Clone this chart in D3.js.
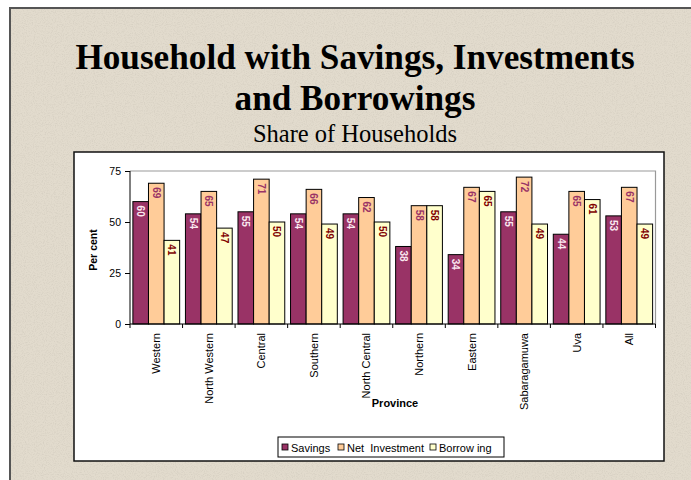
<!DOCTYPE html>
<html>
<head>
<meta charset="utf-8">
<script src="https://cdn.jsdelivr.net/npm/d3@7"></script>
<style>
  html, body { margin: 0; padding: 0; background: #ffffff; }
  svg { display: block; }
</style>
</head>
<body>
<svg id="chart" width="691" height="480"></svg>
<script>
// Provinces and the share of households (%) in each group
const provinces = ["Western", "North Western", "Central", "Southern", "North Central",
                   "Northern", "Eastern", "Sabaragamuwa", "Uva", "All"];
const savings    = [60, 54, 55, 54, 54, 38, 34, 55, 44, 53];
const investment = [69, 65, 71, 66, 62, 58, 67, 72, 65, 67];
const borrowing  = [41, 47, 50, 49, 50, 58, 65, 49, 61, 49];
const seriesNames = ["Savings", "Net  Investment", "Borrow ing"];
const yTicks = [0, 25, 50, 75];

const series = [
  { name: seriesNames[0], values: savings,    fill: "#993366", label: "#fbe8f0" },
  { name: seriesNames[1], values: investment, fill: "#ffcc99", label: "#993366" },
  { name: seriesNames[2], values: borrowing,  fill: "#ffffcc", label: "#800000" }
];

const svg = d3.select("#chart");
const W = 691, H = 480;

// Slide background with a faint granite texture
const defs = svg.append("defs");
const f = defs.append("filter").attr("id", "grain").attr("x", 0).attr("y", 0)
  .attr("width", "100%").attr("height", "100%");
f.append("feTurbulence").attr("type", "fractalNoise").attr("baseFrequency", 0.9)
  .attr("numOctaves", 2).attr("seed", 7).attr("result", "noise");
f.append("feColorMatrix").attr("in", "noise").attr("type", "matrix")
  .attr("values", "0 0 0 0 0.45  0 0 0 0 0.42  0 0 0 0 0.36  0 0 0 -1.6 0.9");

svg.append("rect").attr("x", 0).attr("y", 0).attr("width", W).attr("height", H).attr("fill", "#ffffff");
svg.append("rect").attr("x", 10).attr("y", 8).attr("width", W - 10).attr("height", H - 8)
  .attr("fill", "#e2dbcd");
svg.append("rect").attr("x", 10).attr("y", 8).attr("width", W - 10).attr("height", H - 8)
  .attr("filter", "url(#grain)").attr("opacity", 0.35);
svg.append("path").attr("d", `M10,${H} V8 H${W}`).attr("fill", "none")
  .attr("stroke", "#555555").attr("stroke-width", 2);

// Titles
const serif = "'Liberation Serif', 'Times New Roman', serif";
svg.append("text").attr("x", 355).attr("y", 69).attr("text-anchor", "middle")
  .attr("font-family", serif).attr("font-weight", "bold").attr("font-size", 35.2)
  .attr("fill", "#000").text("Household with Savings, Investments");
svg.append("text").attr("x", 355).attr("y", 110).attr("text-anchor", "middle")
  .attr("font-family", serif).attr("font-weight", "bold").attr("font-size", 35.2)
  .attr("fill", "#000").text("and Borrowings");
svg.append("text").attr("x", 355).attr("y", 141.5).attr("text-anchor", "middle")
  .attr("font-family", serif).attr("font-size", 24.5)
  .attr("fill", "#000").text("Share of Households");

// Chart frame
svg.append("rect").attr("x", 74).attr("y", 152).attr("width", 590).attr("height", 309)
  .attr("fill", "#ffffff").attr("stroke", "#111111").attr("stroke-width", 1.5);

const sans = "'Liberation Sans', Arial, sans-serif";
const plot = { left: 130, right: 655.5, top: 171, bottom: 324 };

const x = d3.scaleBand().domain(provinces).range([plot.left, plot.right]).paddingInner(0.11).paddingOuter(0.055);
const xs = d3.scaleBand().domain(series.map(s => s.name)).range([0, x.bandwidth()]);
const y = d3.scaleLinear().domain([0, 75]).range([plot.bottom, plot.top]);

// Plot area outline (top and right edges)
svg.append("path").attr("d", `M${plot.left},${plot.top} H${plot.right} V${plot.bottom}`)
  .attr("fill", "none").attr("stroke", "#999999").attr("stroke-width", 1.2);

// Bars
const groups = svg.append("g").selectAll("g").data(series).join("g");
groups.selectAll("rect").data(s => s.values.map((v, i) => ({ v, p: provinces[i], s })))
  .join("rect")
  .attr("x", d => x(d.p) + xs(d.s.name))
  .attr("y", d => y(d.v))
  .attr("width", xs.bandwidth())
  .attr("height", d => y(0) - y(d.v))
  .attr("fill", d => d.s.fill)
  .attr("stroke", "#000").attr("stroke-width", 1);

// Value labels, rotated, inside the top of each bar
groups.selectAll("text").data(s => s.values.map((v, i) => ({ v, p: provinces[i], s })))
  .join("text")
  .attr("transform", d => `translate(${x(d.p) + xs(d.s.name) + xs.bandwidth() / 2},${y(d.v) + 4}) rotate(90)`)
  .attr("dominant-baseline", "central")
  .attr("font-family", sans).attr("font-weight", "bold").attr("font-size", 10)
  .attr("fill", d => d.s.label)
  .text(d => d.v);

// Y axis
const yAxis = svg.append("g").attr("transform", `translate(${plot.left},0)`)
  .call(d3.axisLeft(y).tickValues(yTicks).tickSize(5).tickPadding(4));
yAxis.select(".domain").attr("stroke", "#000").attr("d", `M-0,${plot.top}V${plot.bottom}`);
yAxis.selectAll("text").attr("font-family", sans).attr("font-size", 10.5).attr("fill", "#000");

// X axis with tick marks between categories
const xAxis = svg.append("g").attr("transform", `translate(0,${plot.bottom})`);
xAxis.append("line").attr("x1", plot.left).attr("x2", plot.right).attr("stroke", "#000");
const step = (plot.right - plot.left) / provinces.length;
xAxis.selectAll("line.tick").data(d3.range(provinces.length + 1)).join("line")
  .attr("class", "tick")
  .attr("x1", i => plot.left + i * step).attr("x2", i => plot.left + i * step)
  .attr("y1", 0).attr("y2", 4).attr("stroke", "#000");
xAxis.selectAll("text").data(provinces).join("text")
  .attr("transform", d => `translate(${x(d) + x.bandwidth() / 2},9) rotate(-90)`)
  .attr("text-anchor", "end").attr("dominant-baseline", "central")
  .attr("font-family", sans).attr("font-size", 11).attr("fill", "#000")
  .text(d => d);

// Axis titles
svg.append("text").attr("transform", "translate(93,250) rotate(-90)")
  .attr("text-anchor", "middle").attr("dominant-baseline", "central")
  .attr("font-family", sans).attr("font-weight", "bold").attr("font-size", 10.5)
  .attr("fill", "#000").text("Per cent");
svg.append("text").attr("x", 395).attr("y", 407).attr("text-anchor", "middle")
  .attr("font-family", sans).attr("font-weight", "bold").attr("font-size", 11)
  .attr("fill", "#000").text("Province");

// Legend
const legend = svg.append("g").attr("transform", "translate(278,437)");
legend.append("rect").attr("width", 226).attr("height", 20)
  .attr("fill", "#fff").attr("stroke", "#000").attr("stroke-width", 1);
const legendX = [4, 60, 152];
const items = legend.selectAll("g").data(series).join("g")
  .attr("transform", (d, i) => `translate(${legendX[i]},10)`);
items.append("rect").attr("x", 0).attr("y", -3).attr("width", 6).attr("height", 6)
  .attr("fill", d => d.fill).attr("stroke", "#000").attr("stroke-width", 0.8);
items.append("text").attr("x", 9).attr("y", 0.5).attr("dominant-baseline", "central")
  .attr("xml:space", "preserve")
  .attr("font-family", sans).attr("font-size", 11).attr("fill", "#000")
  .text(d => d.name);
</script>
</body>
</html>
